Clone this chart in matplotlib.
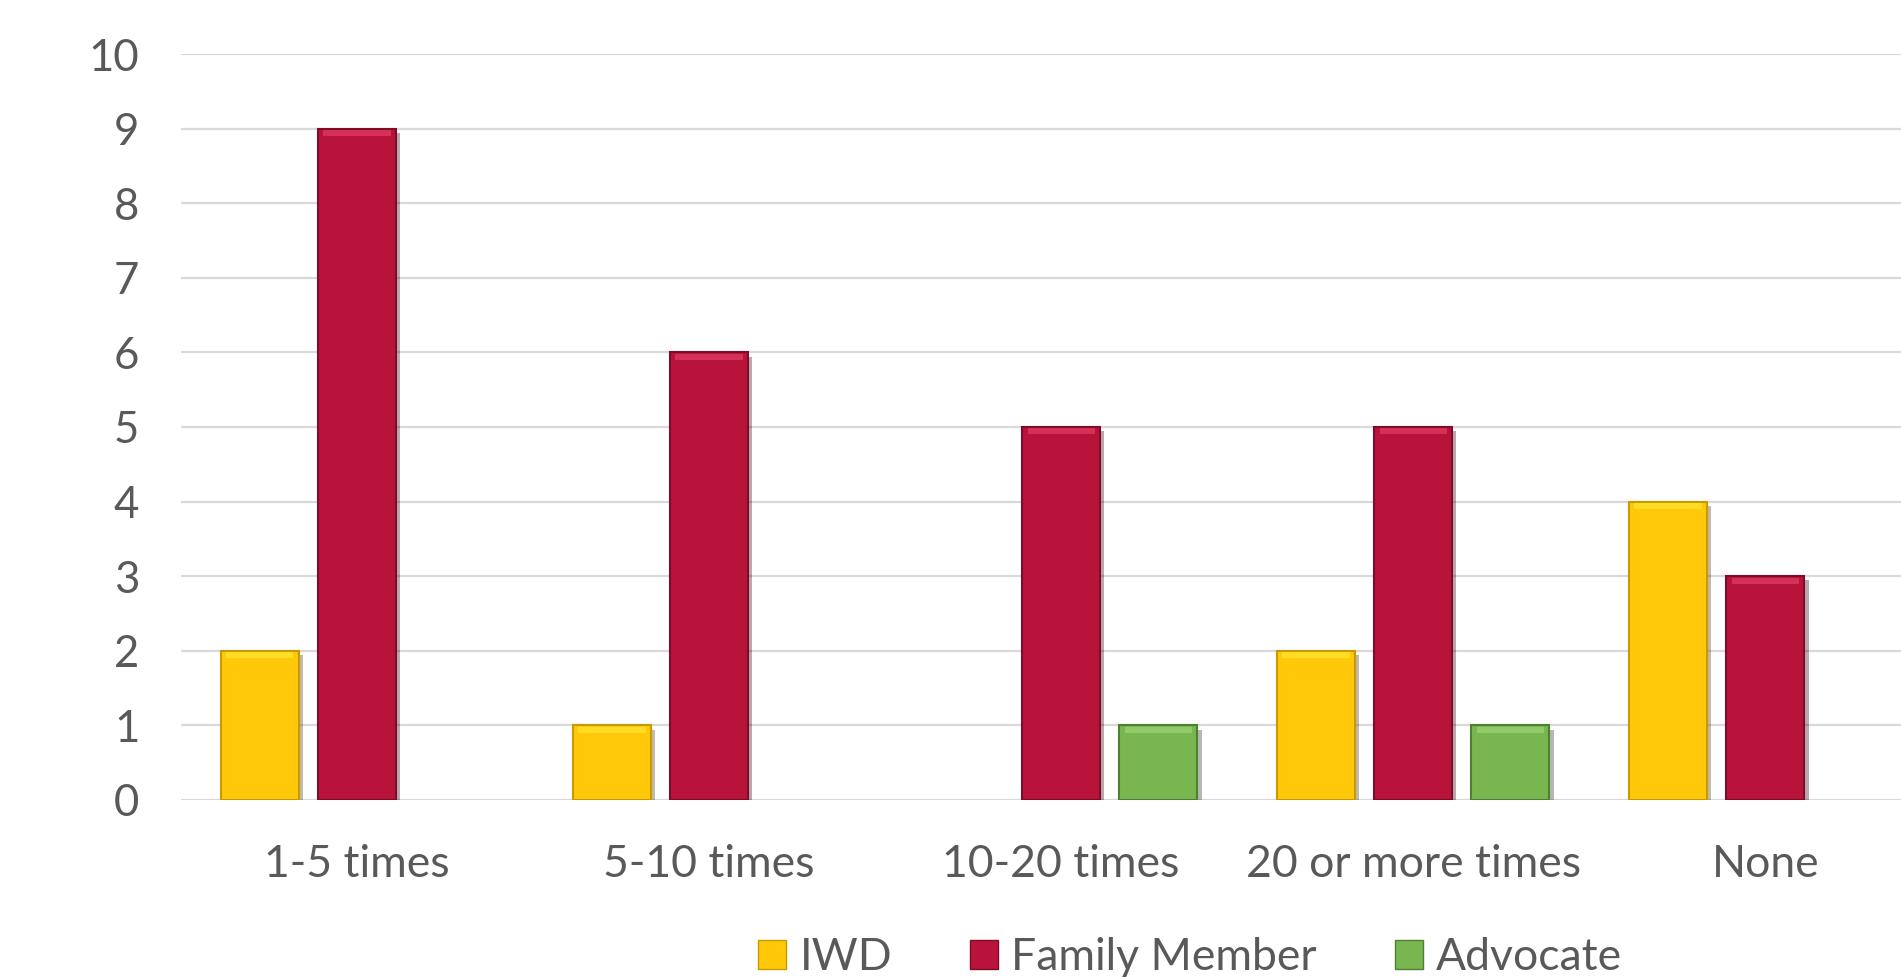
import matplotlib
matplotlib.use("Agg")
import matplotlib.pyplot as plt
import matplotlib.patheffects as pe
from matplotlib.patches import Patch
import numpy as np

# data
categories = ["1-5 times", "5-10 times", "10-20 times", "20 or more times", "None"]
iwd = [2, 1, 0, 2, 4]
family = [9, 6, 5, 5, 3]
advocate = [0, 0, 1, 1, 0]

series = [
    ("IWD", iwd, "#FFC90A", "#C99A00", "#FFE93A"),
    ("Family Member", family, "#BA133B", "#7E0C27", "#E8446A"),
    ("Advocate", advocate, "#78B750", "#4F7F31", "#A2D77C"),
]

plt.rcParams["font.family"] = ["Lato", "DejaVu Sans"]
text_color = "#595959"

fig = plt.figure(figsize=(19.01, 9.77), dpi=100)
ax = fig.add_axes([0.0952, 0.1812, 0.926, 0.7635])

x = np.arange(len(categories))
width = 0.222
offset = 0.276

for i, (name, vals, face, edge, light) in enumerate(series):
    vals = np.array(vals, dtype=float)
    keep = vals > 0
    xs = x[keep] + (i - 1) * offset
    ax.bar(xs, vals[keep], width=width, color=face, edgecolor=edge, linewidth=1.5, zorder=3,
           path_effects=[pe.SimplePatchShadow(offset=(3, -3), alpha=0.35), pe.Normal()])
    # bevel highlight at the top of each bar
    ax.bar(xs, 0.08, bottom=vals[keep] - 0.1, width=width * 0.86, color=light,
           linewidth=0, zorder=4, alpha=0.6)

ax.set_xlim(-0.5, len(categories) - 0.5)
ax.set_ylim(0, 10)
ax.set_yticks(range(0, 11))
ax.set_xticks(x)
ax.set_xticklabels(categories)
ax.tick_params(axis="y", length=0, pad=30, labelsize=31.5, labelcolor=text_color)
ax.tick_params(axis="x", length=0, pad=32, labelsize=32, labelcolor=text_color)
ax.grid(axis="y", color="#D9D9D9", linewidth=1.6, zorder=0)
for s in ax.spines.values():
    s.set_visible(False)

handles = [Patch(facecolor=face, edgecolor=edge, label=name) for name, _, face, edge, _ in series]
fig.legend(handles=handles, loc="center", bbox_to_anchor=(0.626, 0.02), ncol=3, frameon=False,
           fontsize=32, labelcolor=text_color, handlelength=0.63, handleheight=0.63,
           handletextpad=0.3, columnspacing=1.75)

fig.savefig("out.png", dpi=100, facecolor="white")
